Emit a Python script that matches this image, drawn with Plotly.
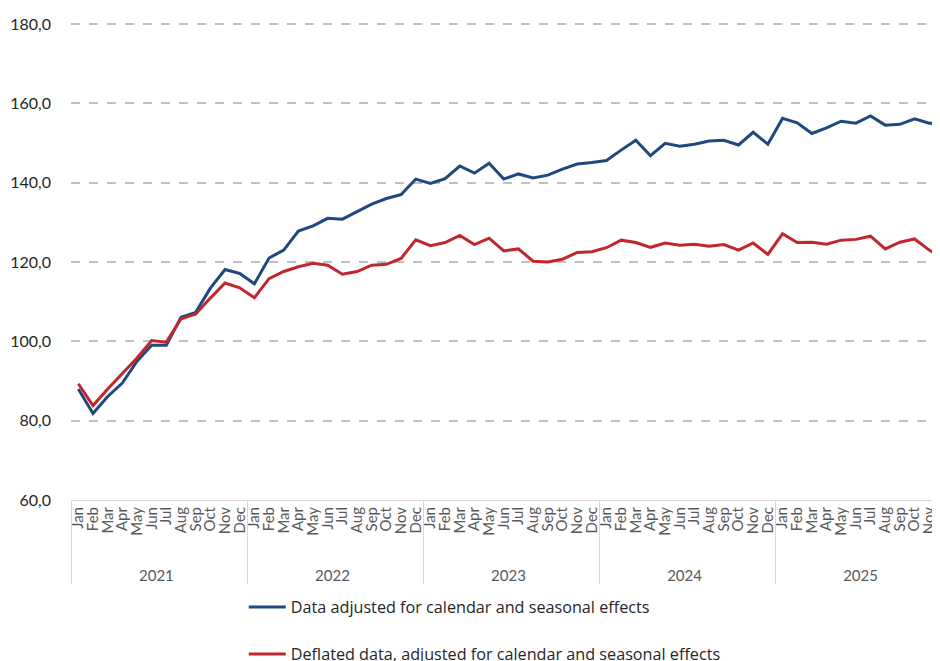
import plotly.graph_objects as go

years = ["2021", "2022", "2023", "2024", "2025"]
months = ["Jan", "Feb", "Mar", "Apr", "May", "Jun", "Jul", "Aug", "Sep", "Oct", "Nov", "Dec"]

adjusted = [
    88.0, 81.8, 86.1, 89.5, 95.0, 99.0, 99.0, 106.1, 107.3, 113.4, 118.1, 117.1,
    114.5, 121.0, 123.0, 127.8, 129.1, 131.0, 130.8, 132.6, 134.6, 136.0, 137.0, 140.9,
    139.8, 141.0, 144.2, 142.4, 144.9, 140.9, 142.2, 141.2, 141.9, 143.4, 144.7, 145.1,
    145.6, 148.2, 150.7, 146.8, 149.9, 149.2, 149.7, 150.5, 150.7, 149.5, 152.7, 149.7,
    156.2, 155.1, 152.4, 153.8, 155.5, 155.0, 156.8, 154.5, 154.7, 156.1, 155.0, 154.8,
]
deflated = [
    89.3, 83.8, 88.0, 91.8, 95.8, 100.2, 99.8, 105.7, 106.9, 110.9, 114.7, 113.5,
    111.0, 115.8, 117.6, 118.8, 119.7, 119.2, 116.9, 117.6, 119.2, 119.4, 120.9, 125.6,
    124.1, 124.9, 126.7, 124.4, 126.0, 122.8, 123.3, 120.2, 120.0, 120.7, 122.4, 122.6,
    123.6, 125.5, 124.9, 123.7, 124.8, 124.2, 124.5, 124.0, 124.4, 123.0, 124.8, 121.9,
    127.1, 124.9, 125.0, 124.5, 125.5, 125.7, 126.5, 123.3, 125.0, 125.8, 123.0, 120.9,
]

names = [
    "Data adjusted for calendar and seasonal effects",
    "Deflated data, adjusted for calendar and seasonal effects",
]
colors = ["#1F497D", "#C0272D"]

# leading no-break spaces extend the rotated month labels downward so the
# year row sits lower, as in the reference
pad = "\u00a0" * 4
x_years = [y for y in years for _ in months]
x_months = [pad + m for _ in years for m in months]

fig = go.Figure()
for i, (vals, name, col) in enumerate(zip([adjusted, deflated], names, colors)):
    fig.add_trace(go.Scatter(
        x=[x_years, x_months], y=vals, mode="lines", name=name,
        line=dict(color=col, width=3), legendgroup=f"g{i}",
    ))

fig.update_layout(
    width=940, height=661,
    margin=dict(l=63, r=0, t=14, b=169, autoexpand=False),
    plot_bgcolor="white", paper_bgcolor="white",
    separators=", ",
    font=dict(family="Lato, 'Noto Sans', sans-serif", size=16, color="#262626"),
    showlegend=True,
    legend=dict(
        x=0.197, y=-0.188, xanchor="left", yanchor="top",
        orientation="v", tracegroupgap=23, itemwidth=37,
        font=dict(family="'Open Sans', sans-serif", size=16.2, color="#262626"),
        bgcolor="rgba(0,0,0,0)",
    ),
    xaxis=dict(
        type="multicategory",
        range=[-0.5, 59.28],
        dtick=1, tick0=0,
        tickangle=-90,
        tickfont=dict(size=15, color="#595959"),
        showgrid=False,
        showline=True, linecolor="#D9D9D9", linewidth=1,
        showdividers=True, dividercolor="#D9D9D9", dividerwidth=1,
        ticks="",
        automargin=False,
    ),
    yaxis=dict(
        range=[60, 180.5],
        tick0=60, dtick=20,
        tickformat=".1f",
        showgrid=True, gridcolor="#BFBFBF", griddash="dash", gridwidth=1.5,
        zeroline=False,
        showline=False,
        ticks="",
        ticklabelstandoff=19,
        tickfont=dict(size=16, color="#262626"),
        automargin=False,
    ),
)

fig.write_html("out.html")
